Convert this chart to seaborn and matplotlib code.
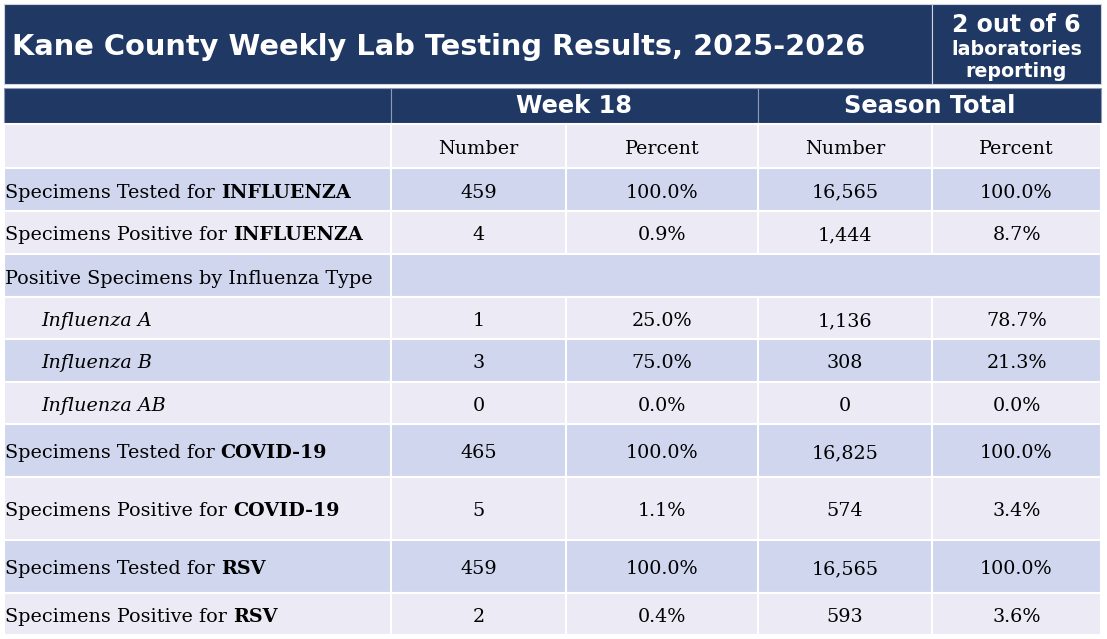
"""
Tabla semanal de resultados de laboratorio (Kane County) dibujada con seaborn/matplotlib.
"""
import matplotlib.pyplot as plt
import seaborn as sns
from matplotlib.patches import Rectangle

# Datos de la tabla
titulo = "Kane County Weekly Lab Testing Results, 2025-2026"
labs_reportando = 2
labs_total = 6
semana = 18

etiquetas = [
    "Specimens Tested for", "Specimens Positive for",
    "Positive Specimens by Influenza Type",
    "Influenza A", "Influenza B", "Influenza AB",
    "Specimens Tested for", "Specimens Positive for",
    "Specimens Tested for", "Specimens Positive for",
]
etiquetas_negrita = ["INFLUENZA", "INFLUENZA", "", "", "", "",
                     "COVID-19", "COVID-19", "RSV", "RSV"]
filas_cursiva = [3, 4, 5]
fila_combinada = 2

semana_numero = [459, 4, None, 1, 3, 0, 465, 5, 459, 2]
semana_porcentaje = [100.0, 0.9, None, 25.0, 75.0, 0.0, 100.0, 1.1, 100.0, 0.4]
temporada_numero = [16565, 1444, None, 1136, 308, 0, 16825, 574, 16565, 593]
temporada_porcentaje = [100.0, 8.7, None, 78.7, 21.3, 0.0, 100.0, 3.4, 100.0, 3.6]

# Estilo
sns.set_theme(style="white")
plt.rcParams['font.family'] = ['DejaVu Serif']
plt.rcParams['text.color'] = 'black'

AZUL_OSCURO = "#203864"
AZUL_FILA = "#CFD6EE"
LILA_FILA = "#ECEAF5"
SERIF = "DejaVu Serif"
SANS = "DejaVu Sans"
TAM = 13.8

# Geometria (pixeles)
col_x = [4, 391, 566, 758, 932, 1101]
filas_y = [167.5, 210.5, 253.5, 296.5, 338.5, 381.5, 423.5, 476.5, 539.5, 592.5, 635]
sub_y = (124, 167.5)

fig = plt.figure(figsize=(11.07, 6.39), dpi=100)
ax = fig.add_axes([0, 0, 1, 1])
ax.set_xlim(0, 1107)
ax.set_ylim(639, 0)
ax.axis("off")


def celda(x0, x1, y0, y1, color, borde="white", lw=1.5):
    ax.add_patch(Rectangle((x0, y0), x1 - x0, y1 - y0, facecolor=color,
                           edgecolor=borde, linewidth=lw))


# Barra de titulo
celda(col_x[0], col_x[4], 4, 84, AZUL_OSCURO, borde="#D0D4E0", lw=0.8)
celda(col_x[4], col_x[5], 4, 84, AZUL_OSCURO, borde="#D0D4E0", lw=0.8)
ax.text(12, 55, titulo, color="white", fontsize=20.8, fontweight="bold",
        family=SANS, ha="left", va="baseline")
xc = (col_x[4] + col_x[5]) / 2
ax.text(xc, 32, f"{labs_reportando} out of {labs_total}", color="white",
        fontsize=17, fontweight="bold", family=SANS, ha="center", va="baseline")
ax.text(xc, 55, "laboratories", color="white", fontsize=13.7,
        fontweight="bold", family=SANS, ha="center", va="baseline")
ax.text(xc, 77, "reporting", color="white", fontsize=13.7,
        fontweight="bold", family=SANS, ha="center", va="baseline")

# Encabezado de grupos
celda(col_x[0], col_x[1], 88, 124, AZUL_OSCURO, borde="#8C9AB8", lw=0.8)
celda(col_x[1], col_x[3], 88, 124, AZUL_OSCURO, borde="#8C9AB8", lw=0.8)
celda(col_x[3], col_x[5], 88, 124, AZUL_OSCURO, borde="#8C9AB8", lw=0.8)
ax.text((col_x[1] + col_x[3]) / 2, 113, f"Week {semana}", color="white",
        fontsize=17.3, fontweight="bold", family=SANS, ha="center", va="baseline")
ax.text((col_x[3] + col_x[5]) / 2, 113, "Season Total", color="white",
        fontsize=17.3, fontweight="bold", family=SANS, ha="center", va="baseline")

# Subencabezado
for i in range(5):
    celda(col_x[i], col_x[i + 1], sub_y[0], sub_y[1], LILA_FILA)
for i, nombre in zip(range(1, 5), ["Number", "Percent", "Number", "Percent"]):
    ax.text((col_x[i] + col_x[i + 1]) / 2, sum(sub_y) / 2 + 8.5, nombre,
            fontsize=TAM, family=SERIF, ha="center", va="baseline")

# Cuerpo de la tabla
for r in range(len(etiquetas)):
    y0, y1 = filas_y[r], filas_y[r + 1]
    color = AZUL_FILA if r % 2 == 0 else LILA_FILA
    base = (y0 + y1) / 2 + 8.5
    if r == fila_combinada:
        celda(col_x[0], col_x[1], y0, y1, color)
        celda(col_x[1], col_x[5], y0, y1, color)
    else:
        for i in range(5):
            celda(col_x[i], col_x[i + 1], y0, y1, color)

    if r in filas_cursiva:
        ax.text(41, base, etiquetas[r], fontsize=TAM, family=SERIF,
                style="italic", ha="left", va="baseline")
    else:
        t = ax.text(5, base, etiquetas[r], fontsize=TAM, family=SERIF,
                    ha="left", va="baseline")
        if etiquetas_negrita[r]:
            ax.annotate(etiquetas_negrita[r], xy=(1, base), xycoords=(t, "data"),
                        xytext=(4.3, 0), textcoords="offset points",
                        fontsize=TAM, family=SERIF, fontweight="bold",
                        ha="left", va="baseline")

    if semana_numero[r] is None:
        continue
    valores = [f"{semana_numero[r]:,}", f"{semana_porcentaje[r]:.1f}%",
               f"{temporada_numero[r]:,}", f"{temporada_porcentaje[r]:.1f}%"]
    for i, v in zip(range(1, 5), valores):
        ax.text((col_x[i] + col_x[i + 1]) / 2, base, v, fontsize=TAM,
                family=SERIF, ha="center", va="baseline")

plt.savefig("out.png", dpi=100)
plt.close()
